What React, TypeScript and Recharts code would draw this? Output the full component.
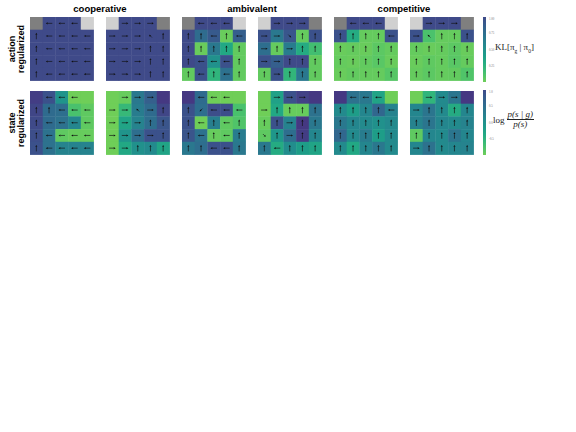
import { ScatterChart, Scatter, XAxis, YAxis, BarChart, Bar } from "recharts";

const conditions = ["cooperative", "ambivalent", "competitive"];
const regularizers = [
  ["action", "regularized"],
  ["state", "regularized"],
];
const klTicks = [0, 0.25, 0.5, 0.75, 1];
const logTicks = [-1, -0.5, 0, 0.5, 1];

// action regularized: KL[pi_g | pi_0] per cell (null = goal cell)
const klCoopLeft = [
  [null, 1, 1, 1, null],
  [1, 1, 1, 1, 1],
  [1, 1, 1, 1, 1],
  [1, 1, 1, 1, 1],
  [1, 1, 1, 1, 1],
];
const klCoopRight = [
  [null, 1, 1, 1, null],
  [1, 1, 1, 1, 1],
  [1, 1, 1, 1, 1],
  [1, 1, 1, 1, 1],
  [1, 1, 1, 1, 1],
];
const klAmbLeft = [
  [null, 1, 1, 1, null],
  [1, 0.77, 0.89, 0.02, 0.86],
  [1, 0.02, 0.68, 0.32, 0.04],
  [1, 0.95, 0.5, 0.95, 0.04],
  [0.04, 0.95, 0.23, 0.73, 0.04],
];
const klAmbRight = [
  [null, 1, 1, 1, null],
  [0.95, 0.68, 0.92, 0.03, 0.95],
  [0.75, 0.03, 0.65, 0.3, 0.15],
  [0.95, 0.86, 1, 1, 0.04],
  [0.04, 0.95, 0.22, 0.68, 0.04],
];
const klCompLeft = [
  [null, 1, 1, 1, null],
  [0.95, 0.3, 0.03, 0.03, 0.95],
  [0.02, 0.03, 0.02, 0.06, 0.03],
  [0.03, 0.02, 0.04, 0.07, 0.02],
  [0.02, 0.04, 0.03, 0.03, 0.08],
];
const klCompRight = [
  [null, 1, 1, 1, null],
  [0.95, 0.12, 0.03, 0.03, 0.95],
  [0.03, 0.02, 0.03, 0.06, 0.02],
  [0.02, 0.05, 0.03, 0.07, 0.03],
  [0.03, 0.06, 0.03, 0.04, 0.1],
];

// state regularized: log p(s|g)/p(s) per cell
const logCoopLeft = [
  [1.15, 0.9, -0.05, -1, -1],
  [1.05, 0.55, 0.5, -0.75, -0.9],
  [1.0, 0.55, 0.45, 0.15, -0.9],
  [0.95, 0.45, -0.9, -0.95, -0.95],
  [0.9, 0.45, 0.2, 0.2, 0.2],
];
const logCoopRight = [
  [-1, -0.95, 0.35, 0.7, 1.2],
  [-1, -0.6, 0.3, 0.55, 1.05],
  [-1, -0.3, 0.2, 0.5, 0.85],
  [-1, -0.05, 0.5, 0.9, 0.9],
  [-1, -0.35, 0.0, 0.1, -0.3],
];
const logAmbLeft = [
  [1.2, 0.55, -1, -1, -1],
  [0.9, 0.5, 0.95, 0.95, -0.75],
  [0.9, -1, 0.25, -0.9, -0.8],
  [0.85, 0.45, -0.95, -0.9, 0.3],
  [0.35, 0.5, 0.9, 0.9, 0.35],
];
const logAmbRight = [
  [-1, -0.25, 0.9, 1.1, 1.2],
  [-1, -0.35, -0.95, -0.95, 0.45],
  [-0.95, 0.9, 0.2, 1.2, 0.35],
  [-0.9, -0.1, 0.5, 1.15, 0.15],
  [0.35, -0.4, 0.05, -0.2, -0.3],
];
const logCompLeft = [
  [1.2, 0.45, 0.35, -0.3, -1],
  [0.1, -0.2, 0.15, 0.6, 0.2],
  [0.35, 0.15, 0.1, 0.0, 0.1],
  [0.6, 0.1, 0.3, -0.2, 0.1],
  [0.1, -0.35, 0.15, 0.35, 0.1],
];
const logCompRight = [
  [-1, -0.55, 0.1, 0.4, 1.2],
  [0.15, 0.4, 0.1, -0.4, 0.15],
  [0.2, 0.4, 0.15, 0.1, 0.2],
  [-0.9, 0.15, 0.1, 0.4, 0.15],
  [0.15, 0.45, 0.1, 0.15, 0.2],
];

// greedy action per cell: l r u d, q=up-left e=up-right z=down-left c=down-right, "." none
const arrowsCoopLeft = [".lll.", "ullll", "ullll", "ullll", "ullll"];
const arrowsCoopRight = [".rrr.", "rrrqu", "rrruu", "rrruu", "rrruu"];
const arrowsAmbLeft = [".lll.", "uulul", "uuuuu", "ulllu", "ululu"];
const arrowsAmbRight = [".rrr.", "rrcuu", "ruruu", "rruuu", "uruuu"];
const arrowsCompLeft = [".lll.", "uuuul", "uuuuu", "uuuuu", "uuuuu"];
const arrowsCompRight = [".rrr.", "rquuu", "uuuuu", "uuuuu", "uuuuu"];
const arrowsStateCoopLeft = [".lll.", "uulll", "ullll", "ullll", "ullll"];
const arrowsStateCoopRight = [".rrr.", "rrqru", "rrruu", "rrrru", "rruuu"];
const arrowsStateAmbLeft = [".lll.", "uzlll", "ululu", "ululu", "uullu"];
const arrowsStateAmbRight = [".rrr.", "ruuuu", "uuruu", "curuu", "uluuu"];
const arrowsStateCompLeft = [".lll.", "uuuul", "uuuuu", "uuuuu", "uuuuu"];
const arrowsStateCompRight = [".rrr.", "ruuuu", "uuuuu", "uuuuu", "ruuuu"];

const panels = [
  { values: klCoopLeft, arrows: arrowsCoopLeft, kind: "kl", goal: 0 },
  { values: klCoopRight, arrows: arrowsCoopRight, kind: "kl", goal: 4 },
  { values: klAmbLeft, arrows: arrowsAmbLeft, kind: "kl", goal: 0 },
  { values: klAmbRight, arrows: arrowsAmbRight, kind: "kl", goal: 4 },
  { values: klCompLeft, arrows: arrowsCompLeft, kind: "kl", goal: 0 },
  { values: klCompRight, arrows: arrowsCompRight, kind: "kl", goal: 4 },
  { values: logCoopLeft, arrows: arrowsStateCoopLeft, kind: "log", goal: 0 },
  { values: logCoopRight, arrows: arrowsStateCoopRight, kind: "log", goal: 4 },
  { values: logAmbLeft, arrows: arrowsStateAmbLeft, kind: "log", goal: 0 },
  { values: logAmbRight, arrows: arrowsStateAmbRight, kind: "log", goal: 4 },
  { values: logCompLeft, arrows: arrowsStateCompLeft, kind: "log", goal: 0 },
  { values: logCompRight, arrows: arrowsStateCompRight, kind: "log", goal: 4 },
];

const VIRIDIS = [
  "#440154", "#471365", "#482475", "#463480", "#414487", "#3b528b", "#355f8d",
  "#2f6c8e", "#2a788e", "#25848e", "#21918c", "#1e9c89", "#22a884", "#2fb47c",
  "#44bf70", "#5ec962", "#7ad151", "#9bd93c", "#bddf26", "#dfe318", "#fde725",
];

function hex(c: string) {
  return [1, 3, 5].map((i) => parseInt(c.slice(i, i + 2), 16));
}

function viridis(t: number) {
  const x = Math.min(1, Math.max(0, t)) * 20;
  const i = Math.min(19, Math.floor(x));
  const f = x - i;
  const a = hex(VIRIDIS[i]);
  const b = hex(VIRIDIS[i + 1]);
  const m = a.map((v, k) => Math.round(v + (b[k] - v) * f));
  return `rgb(${m[0]},${m[1]},${m[2]})`;
}

// high value = dark blue, low value = green
const klColour = (v: number) => viridis(0.78 - 0.56 * v);
const logColour = (v: number) => viridis(0.78 - 0.56 * ((v + 1) / 2));

const CELL = 12.7;
const GRID = CELL * 5;
const GRID_LEFT = [30, 106, 182, 258, 334, 410];
const GRID_TOP = [17, 91];

const DIRS: Record<string, [number, number]> = {
  l: [-1, 0],
  r: [1, 0],
  u: [0, -1],
  d: [0, 1],
  q: [-Math.SQRT1_2, -Math.SQRT1_2],
  e: [Math.SQRT1_2, -Math.SQRT1_2],
  z: [-Math.SQRT1_2, Math.SQRT1_2],
  c: [Math.SQRT1_2, Math.SQRT1_2],
};

function CellShape(props: any) {
  const { cx, cy, payload } = props;
  const h = CELL / 2;
  const dir = DIRS[payload.arrow];
  let arrow = null;
  if (dir) {
    const [ux, uy] = dir;
    const len = ux !== 0 && uy !== 0 ? 4 : 6.5;
    const tx = cx + (ux * len) / 2;
    const ty = cy + (uy * len) / 2;
    const bx = tx - ux * 1.9;
    const by = ty - uy * 1.9;
    const px = -uy * 1.05;
    const py = ux * 1.05;
    arrow = (
      <g>
        <line x1={cx - (ux * len) / 2} y1={cy - (uy * len) / 2} x2={bx} y2={by} stroke="#111" strokeWidth={0.65} />
        <polygon points={`${tx},${ty} ${bx + px},${by + py} ${bx - px},${by - py}`} fill="#111" />
      </g>
    );
  }
  return (
    <g>
      <rect x={cx - h} y={cy - h} width={CELL + 0.4} height={CELL + 0.4} fill={payload.fill} />
      {arrow}
    </g>
  );
}

function Grid({ panel }: { panel: (typeof panels)[number] }) {
  const data: any[] = [];
  panel.values.forEach((row, r) =>
    row.forEach((v, c) => {
      let fill: string;
      if (v === null) fill = c === panel.goal ? "#7f7f7f" : "#d0d0d0";
      else fill = panel.kind === "kl" ? klColour(v) : logColour(v);
      data.push({ col: c + 0.5, row: r + 0.5, fill, arrow: panel.arrows[r][c] });
    })
  );
  return (
    <ScatterChart width={GRID} height={GRID} margin={{ top: 0, right: 0, bottom: 0, left: 0 }}>
      <XAxis type="number" dataKey="col" domain={[0, 5]} hide />
      <YAxis type="number" dataKey="row" domain={[0, 5]} reversed hide />
      <Scatter data={data} isAnimationActive={false} shape={(p: any) => <CellShape {...p} />} />
    </ScatterChart>
  );
}

function ColourBar({ id, domain, ticks, digits, colour }: any) {
  const data = [{ name: "bar", range: domain }];
  const stops = Array.from({ length: 11 }, (_, k) => k / 10);
  return (
    <BarChart width={17} height={65} data={data} margin={{ top: 0, right: 0, bottom: 0, left: 0 }} barCategoryGap={0}>
      <defs>
        <linearGradient id={id} x1="0" y1="1" x2="0" y2="0">
          {stops.map((s) => (
            <stop key={s} offset={`${s * 100}%`} stopColor={colour(domain[0] + s * (domain[1] - domain[0]))} />
          ))}
        </linearGradient>
      </defs>
      <XAxis dataKey="name" hide />
      <YAxis
        orientation="right"
        domain={domain}
        ticks={ticks}
        width={14}
        axisLine={false}
        tickSize={1}
        tickLine={false}
        tick={{ fontSize: 3, fill: "#777" }}
        tickFormatter={(v: number) => v.toFixed(digits)}
      />
      <Bar dataKey="range" fill={`url(#${id})`} isAnimationActive={false} />
    </BarChart>
  );
}

const bold = { fontFamily: "'Liberation Sans', Arial, sans-serif", fontWeight: 700 } as const;
const serif = { fontFamily: "'Liberation Serif', 'DejaVu Serif', serif", color: "#222" } as const;

export default function App() {
  return (
    <div style={{ position: "absolute", left: 0, top: 0, width: 576, height: 432, background: "#fff" }}>
      {conditions.map((c, i) => (
        <div
          key={c}
          style={{ ...bold, position: "absolute", top: 4, left: GRID_LEFT[2 * i] - 20, width: 2 * GRID + 13 + 40, textAlign: "center", fontSize: 9.5, lineHeight: 1 }}
        >
          {c}
        </div>
      ))}
      {regularizers.map((lines, r) => (
        <div
          key={r}
          style={{
            ...bold,
            position: "absolute",
            left: 17 - 35,
            top: GRID_TOP[r] + GRID / 2 - 9,
            width: 70,
            height: 18,
            fontSize: 9,
            lineHeight: "9px",
            textAlign: "center",
            transform: "rotate(-90deg)",
          }}
        >
          {lines[0]}
          <br />
          {lines[1]}
        </div>
      ))}
      {panels.map((p, k) => (
        <div key={k} style={{ position: "absolute", left: GRID_LEFT[k % 6], top: GRID_TOP[Math.floor(k / 6)] }}>
          <Grid panel={p} />
        </div>
      ))}
      <div style={{ position: "absolute", left: 483, top: 17 }}>
        <ColourBar id="klGrad" domain={[0, 1]} ticks={klTicks} digits={2} colour={klColour} />
      </div>
      <div style={{ position: "absolute", left: 483, top: 90 }}>
        <ColourBar id="logGrad" domain={[-1, 1]} ticks={logTicks} digits={1} colour={logColour} />
      </div>
      <div style={{ ...serif, position: "absolute", left: 495, top: 42, fontSize: 9, whiteSpace: "nowrap" }}>
        KL[π<sub style={{ fontSize: 5.5 }}>g</sub> | π<sub style={{ fontSize: 5.5 }}>0</sub>]
      </div>
      <div style={{ ...serif, position: "absolute", left: 493, top: 110, fontSize: 9, display: "flex", alignItems: "center", whiteSpace: "nowrap" }}>
        <span style={{ marginRight: 2 }}>log</span>
        <span style={{ display: "inline-flex", flexDirection: "column", alignItems: "center", lineHeight: "9px" }}>
          <span style={{ fontStyle: "italic", padding: "0 1px" }}>p(s | g)</span>
          <span style={{ borderTop: "0.6px solid #222", width: "100%", textAlign: "center", fontStyle: "italic" }}>p(s)</span>
        </span>
      </div>
    </div>
  );
}
